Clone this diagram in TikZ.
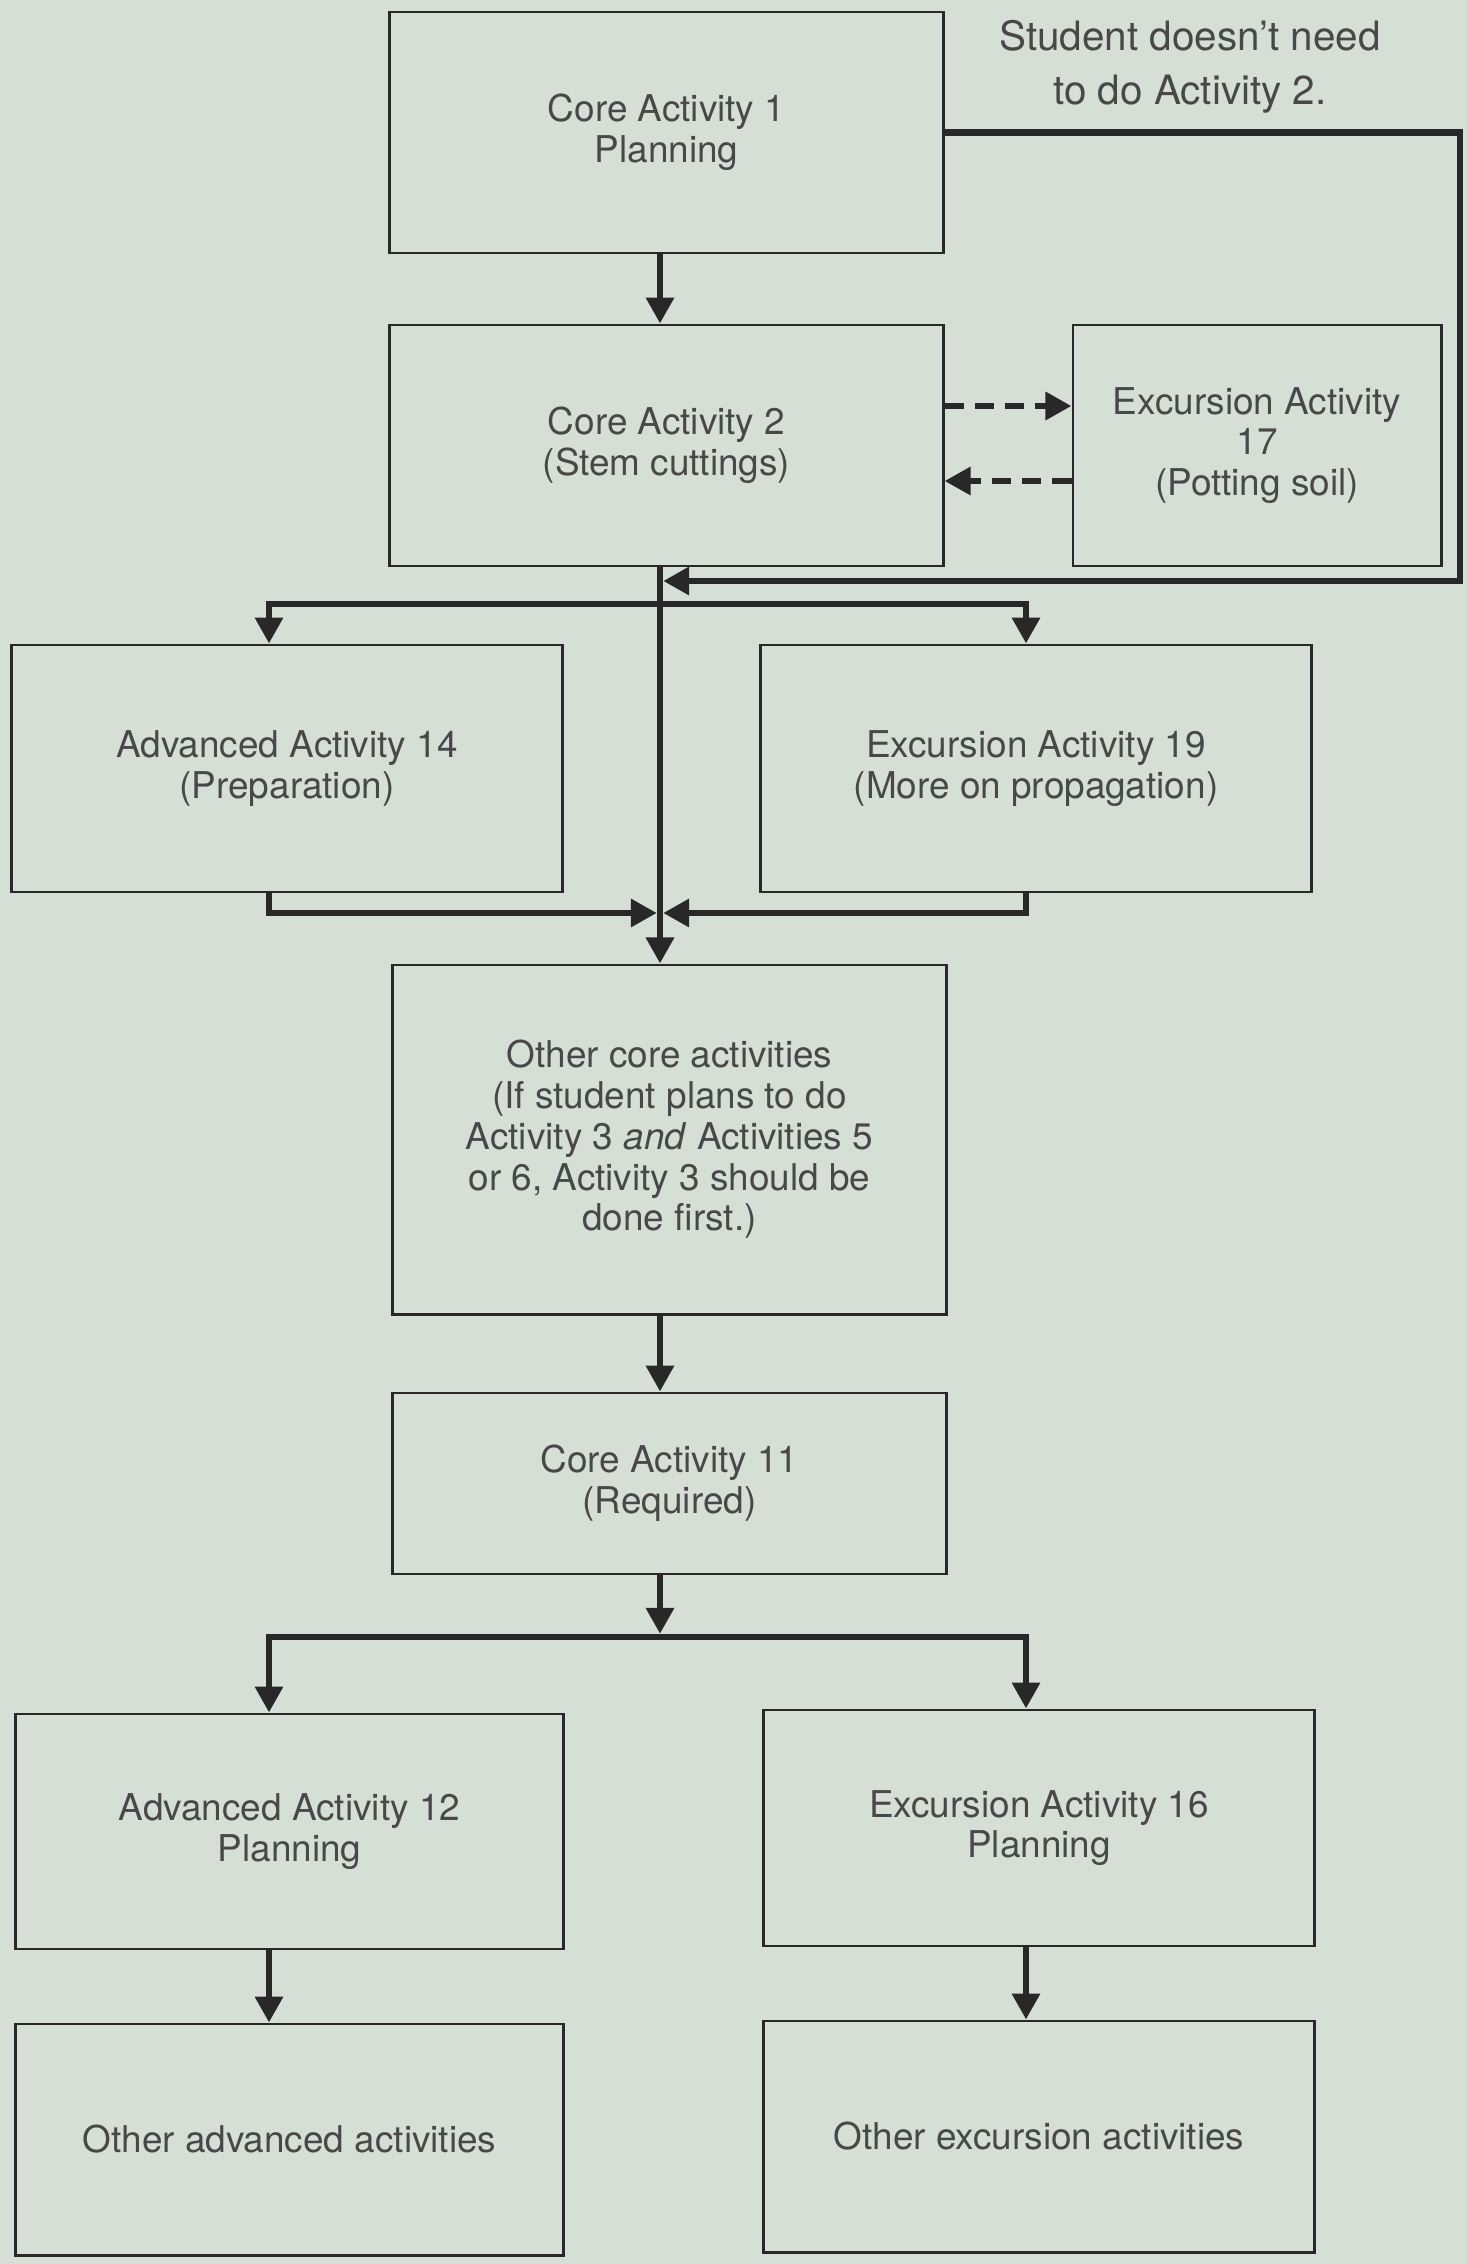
\documentclass[tikz,border=0pt]{standalone}
\usepackage{fontspec}
\setmainfont{TeX Gyre Heros}
\usetikzlibrary{arrows.meta}
\definecolor{paper}{RGB}{214,223,214}
\definecolor{ink}{RGB}{40,40,40}
\tikzset{
	actbox/.style={draw=ink, line width=0.8pt, align=center, inner sep=0pt, text=ink!85, font=\fontsize{10.5}{11.6}\selectfont},
	flow/.style={draw=ink, line width=1.8pt, -{Triangle[width=0.27cm,length=0.26cm]}},
	dashflow/.style={flow, dash pattern=on 0.19cm off 0.11cm},
}
\begin{document}
\begin{tikzpicture}[x=0.01cm, y=-0.01cm]
	\fill [paper] (0,0) rectangle (1467,2264);
	\useasboundingbox (0,0) rectangle (1467,2264);
	% activity boxes
	\node [actbox, minimum width=5.53cm, minimum height=2.41cm] (core1) at (666.5,132.5) {Core Activity 1\\Planning};
	\node [actbox, minimum width=5.53cm, minimum height=2.41cm] (core2) at (666.5,445.5) {Core Activity 2\\(Stem cuttings)};
	\node [actbox, minimum width=3.68cm, minimum height=2.41cm] (exc17) at (1257,445.5) {Excursion Activity\\17\\(Potting soil)};
	\node [actbox, minimum width=5.50cm, minimum height=2.47cm] (adv14) at (287,768.5) {Advanced Activity 14\\(Preparation)};
	\node [actbox, minimum width=5.50cm, minimum height=2.47cm] (exc19) at (1036,768.5) {Excursion Activity 19\\(More on propagation)};
	\node [actbox, minimum width=5.53cm, minimum height=3.49cm] (othercore) at (669.5,1139.5) {Other core activities\\(If student plans to do\\Activity 3 \textit{and} Activities 5\\or 6, Activity 3 should be\\done first.)};
	\node [actbox, minimum width=5.53cm, minimum height=1.81cm] (core11) at (669.5,1483.5) {Core Activity 11\\(Required)};
	\node [actbox, minimum width=5.47cm, minimum height=2.35cm] (adv12) at (289.5,1831.5) {Advanced Activity 12\\Planning};
	\node [actbox, minimum width=5.50cm, minimum height=2.36cm] (exc16) at (1039,1828) {Excursion Activity 16\\Planning};
	\node [actbox, minimum width=5.47cm, minimum height=2.31cm] (otheradv) at (289.5,2139.5) {Other advanced activities};
	\node [actbox, minimum width=5.50cm, minimum height=2.31cm] (otherexc) at (1039,2136.5) {Other excursion activities};
	\node [font=\fontsize{11.5}{15.5}\selectfont, text=ink!85, align=center] (skipnote) at (1190,67) {Student doesn't need\\to do Activity 2.};
	% junction points
	\coordinate (spine) at (660,0);
	\coordinate (lbr) at (269,0);
	\coordinate (rbr) at (1026,0);
	\coordinate (split1) at (660,604);
	\coordinate (merge) at (660,913);
	\coordinate (split2) at (660,1637);
	\coordinate (skipc) at (1460,581);
	\coordinate (dashhi) at (0,406);
	\coordinate (dashlo) at (0,481);
	% connectors
	\draw [flow] (core1.south -| spine) -- (core2.north -| spine);
	\draw [dashflow] (core2.east |- dashhi) -- (exc17.west |- dashhi);
	\draw [dashflow] (exc17.west |- dashlo) -- (core2.east |- dashlo);
	\draw [flow, shorten >=0.9pt] (core1.east) -| (skipc) -- (skipc -| spine);
	\draw [flow] (core2.south -| spine) -- (othercore.north -| spine);
	\draw [flow] (split1) -| (adv14.north -| lbr);
	\draw [flow] (split1) -| (exc19.north -| rbr);
	\draw [flow, shorten >=0.9pt] (adv14.south -| lbr) |- (merge);
	\draw [flow, shorten >=0.9pt] (exc19.south -| rbr) |- (merge);
	\draw [flow] (othercore.south -| spine) -- (core11.north -| spine);
	\draw [flow, shorten >=0.9pt] (core11.south -| spine) -- (split2);
	\draw [flow] (split2) -| (adv12.north -| lbr);
	\draw [flow] (split2) -| (exc16.north -| rbr);
	\draw [flow] (adv12.south -| lbr) -- (otheradv.north -| lbr);
	\draw [flow] (exc16.south -| rbr) -- (otherexc.north -| rbr);
\end{tikzpicture}
\end{document}
